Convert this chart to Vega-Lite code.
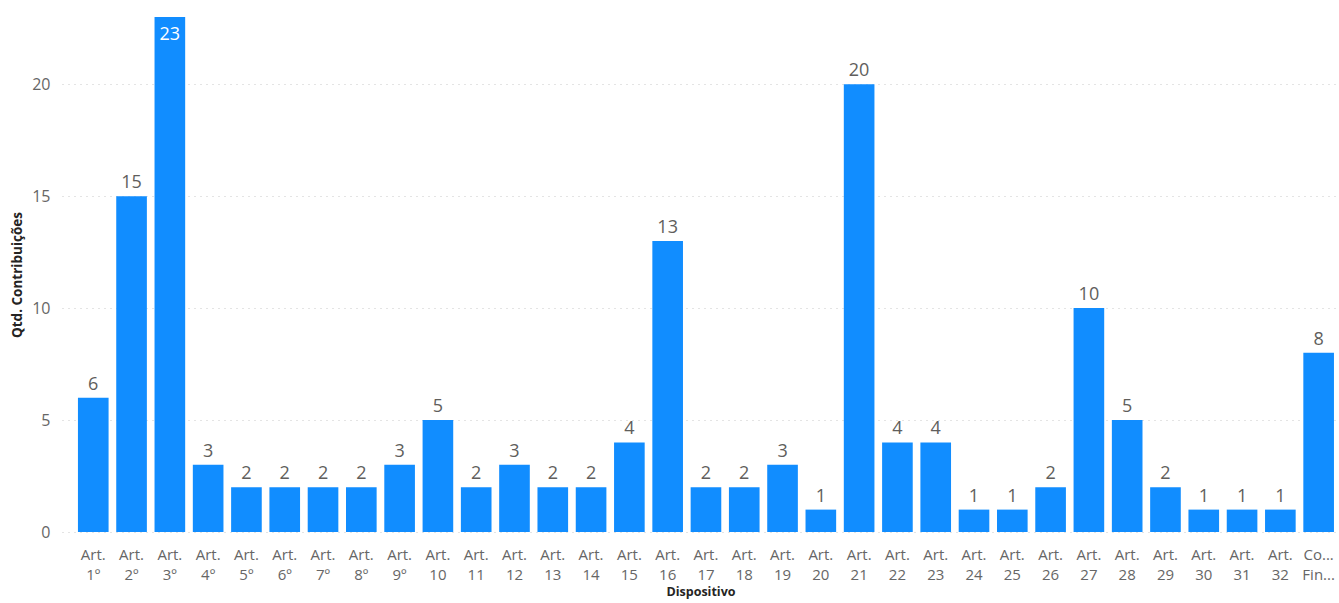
{
  "$schema": "https://vega.github.io/schema/vega-lite/v6.json",
  "width": 1277,
  "height": 515,
  "autosize": {"type": "none"},
  "padding": {"left": 62, "top": 17, "right": 0, "bottom": 71},
  "background": "white",
  "config": {
    "view": {"stroke": null},
    "font": "Open Sans",
    "axis": {"labelFont": "Open Sans", "titleFont": "Open Sans"}
  },
  "data": {
    "values": [
      {"dispositivo": "Art. 1º", "qtd": 6},
      {"dispositivo": "Art. 2º", "qtd": 15},
      {"dispositivo": "Art. 3º", "qtd": 23},
      {"dispositivo": "Art. 4º", "qtd": 3},
      {"dispositivo": "Art. 5º", "qtd": 2},
      {"dispositivo": "Art. 6º", "qtd": 2},
      {"dispositivo": "Art. 7º", "qtd": 2},
      {"dispositivo": "Art. 8º", "qtd": 2},
      {"dispositivo": "Art. 9º", "qtd": 3},
      {"dispositivo": "Art. 10", "qtd": 5},
      {"dispositivo": "Art. 11", "qtd": 2},
      {"dispositivo": "Art. 12", "qtd": 3},
      {"dispositivo": "Art. 13", "qtd": 2},
      {"dispositivo": "Art. 14", "qtd": 2},
      {"dispositivo": "Art. 15", "qtd": 4},
      {"dispositivo": "Art. 16", "qtd": 13},
      {"dispositivo": "Art. 17", "qtd": 2},
      {"dispositivo": "Art. 18", "qtd": 2},
      {"dispositivo": "Art. 19", "qtd": 3},
      {"dispositivo": "Art. 20", "qtd": 1},
      {"dispositivo": "Art. 21", "qtd": 20},
      {"dispositivo": "Art. 22", "qtd": 4},
      {"dispositivo": "Art. 23", "qtd": 4},
      {"dispositivo": "Art. 24", "qtd": 1},
      {"dispositivo": "Art. 25", "qtd": 1},
      {"dispositivo": "Art. 26", "qtd": 2},
      {"dispositivo": "Art. 27", "qtd": 10},
      {"dispositivo": "Art. 28", "qtd": 5},
      {"dispositivo": "Art. 29", "qtd": 2},
      {"dispositivo": "Art. 30", "qtd": 1},
      {"dispositivo": "Art. 31", "qtd": 1},
      {"dispositivo": "Art. 32", "qtd": 1},
      {"dispositivo": "Considerações Finais", "qtd": 8}
    ]
  },
  "encoding": {
    "x": {
      "field": "dispositivo",
      "type": "nominal",
      "sort": null,
      "scale": {"paddingInner": 0.2, "paddingOuter": 0.274, "align": 0.76},
      "axis": {
        "title": "Dispositivo",
        "labelAngle": 0,
        "labelFontSize": 15,
        "labelColor": "#666666",
        "labelPadding": 15,
        "labelLineHeight": 20,
        "labelExpr": "datum.value == 'Considerações Finais' ? ['Co...', 'Fin...'] : split(datum.value, ' ')",
        "ticks": false,
        "domain": false,
        "titleFontSize": 12.5,
        "titleFontWeight": "bold",
        "titleColor": "#252423",
        "titlePadding": 3
      }
    },
    "y": {
      "field": "qtd",
      "type": "quantitative",
      "scale": {"domain": [0, 23], "nice": false},
      "axis": {
        "title": "Qtd. Contribuições",
        "values": [0, 5, 10, 15, 20],
        "labelFontSize": 16,
        "labelColor": "#666666",
        "labelPadding": 12,
        "ticks": false,
        "domain": false,
        "grid": true,
        "gridColor": "#C8C8C8",
        "gridDash": [1, 5],
        "gridWidth": 1,
        "titleFontSize": 13.5,
        "titleFontWeight": "bold",
        "titleColor": "#252423",
        "titlePadding": 7
      }
    }
  },
  "layer": [
    {"mark": {"type": "bar", "color": "#118DFF"}},
    {
      "transform": [{"filter": "datum.qtd < 22"}],
      "mark": {"type": "text", "baseline": "bottom", "dy": -4, "fontSize": 18, "color": "#605E5C"},
      "encoding": {"text": {"field": "qtd", "type": "quantitative"}}
    },
    {
      "transform": [{"filter": "datum.qtd >= 22"}],
      "mark": {"type": "text", "baseline": "top", "dy": 9, "fontSize": 18, "color": "white"},
      "encoding": {"text": {"field": "qtd", "type": "quantitative"}}
    }
  ]
}
